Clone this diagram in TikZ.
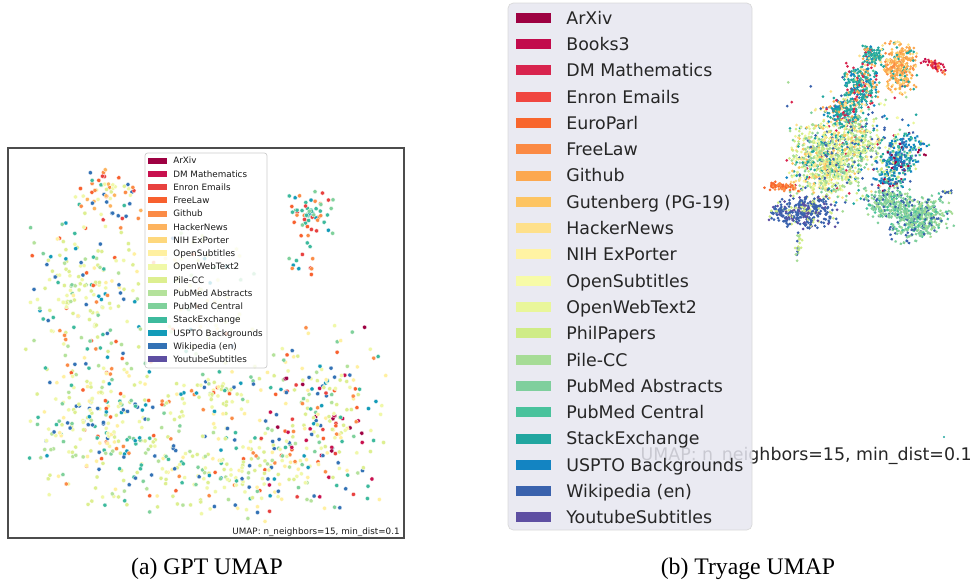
\documentclass[tikz,border=0pt]{standalone}
\usepackage{fontspec}
\setmainfont{Liberation Serif}
\newfontfamily\plotfont{DejaVu Sans}
\usetikzlibrary{calc,positioning}

% GPT palette (16 sources)
\definecolor{gArx}{HTML}{9E0142}
\definecolor{gDMM}{HTML}{C8104E}
\definecolor{gEnr}{HTML}{E8413F}
\definecolor{gFL}{HTML}{F8602E}
\definecolor{gGit}{HTML}{FB8B46}
\definecolor{gHN}{HTML}{FDB35E}
\definecolor{gNIH}{HTML}{FED87D}
\definecolor{gOS}{HTML}{FFF0A0}
\definecolor{gOWT}{HTML}{F0F8A8}
\definecolor{gPCC}{HTML}{DDEF90}
\definecolor{gPMA}{HTML}{B4E29B}
\definecolor{gPMC}{HTML}{7FD19B}
\definecolor{gSE}{HTML}{3DBA9D}
\definecolor{gUSP}{HTML}{139BB8}
\definecolor{gWiki}{HTML}{3372B5}
\definecolor{gYT}{HTML}{5E4FA2}
% Tryage palette (20 sources)
\definecolor{tArx}{HTML}{9E0142}
\definecolor{tBk}{HTML}{C20A4C}
\definecolor{tDMM}{HTML}{D8244E}
\definecolor{tEnr}{HTML}{F04640}
\definecolor{tEP}{HTML}{F8662D}
\definecolor{tFL}{HTML}{FB8A44}
\definecolor{tGit}{HTML}{FCA84F}
\definecolor{tGut}{HTML}{FDC462}
\definecolor{tHN}{HTML}{FEE08B}
\definecolor{tNIH}{HTML}{FFF3A3}
\definecolor{tOS}{HTML}{F7FBA8}
\definecolor{tOWT}{HTML}{E9F69A}
\definecolor{tPP}{HTML}{CFEC86}
\definecolor{tPCC}{HTML}{A6DC96}
\definecolor{tPMA}{HTML}{7FCF9D}
\definecolor{tPMC}{HTML}{49C29C}
\definecolor{tSE}{HTML}{21A6A0}
\definecolor{tUSP}{HTML}{1384C2}
\definecolor{tWiki}{HTML}{3A62AD}
\definecolor{tYT}{HTML}{5E4FA2}
\definecolor{tbg}{HTML}{E6E6F0}

\pgfmathdeclarerandomlist{gmain}{{gOWT}{gOWT}{gOWT}{gOWT}{gPCC}{gPCC}{gPCC}{gPCC}{gOS}{gOS}{gPMA}{gPMA}{gWiki}{gWiki}{gSE}{gPMC}{gGit}{gFL}{gUSP}}
\pgfmathdeclarerandomlist{gtop}{{gGit}{gFL}{gFL}{gHN}{gWiki}{gWiki}{gOWT}{gPCC}{gOWT}{gEnr}{gSE}}
\pgfmathdeclarerandomlist{gright}{{gOWT}{gOWT}{gPCC}{gPCC}{gPCC}{gOS}{gOS}{gWiki}{gWiki}{gSE}{gPMC}{gArx}{gDMM}{gEnr}{gFL}{gGit}{gUSP}{gPMA}}
\pgfmathdeclarerandomlist{gcorner}{{gSE}{gSE}{gSE}{gPMC}{gFL}{gGit}{gGit}{gEnr}{gUSP}}
\pgfmathdeclarerandomlist{tarm}{{tSE}{tSE}{tSE}{tSE}{tUSP}{tPMC}{tDMM}{tGit}{tHN}}
\pgfmathdeclarerandomlist{torange}{{tGit}{tGit}{tGit}{tHN}{tGut}{tFL}{tSE}}
\pgfmathdeclarerandomlist{tred}{{tDMM}{tEnr}{tBk}{tFL}}
\pgfmathdeclarerandomlist{tmain}{{tPP}{tPP}{tPCC}{tPCC}{tOWT}{tOWT}{tOS}{tHN}{tGut}{tPMA}{tWiki}{tSE}}
\pgfmathdeclarerandomlist{tmix}{{tPP}{tPCC}{tOWT}{tOS}{tWiki}{tWiki}{tUSP}{tSE}{tPMA}{tDMM}{tHN}}
\pgfmathdeclarerandomlist{tpat}{{tUSP}{tUSP}{tUSP}{tUSP}{tSE}{tSE}{tWiki}{tArx}{tPMC}{tPP}}
\pgfmathdeclarerandomlist{tmed}{{tPMA}{tPMA}{tPMC}{tPCC}{tPMA}{tPCC}{tWiki}}
\pgfmathdeclarerandomlist{teu}{{tEP}{tFL}{tEP}}
\pgfmathdeclarerandomlist{twiki}{{tWiki}{tWiki}{tWiki}{tYT}{tPP}}
\pgfmathdeclarerandomlist{ttail}{{tPP}{tPCC}{tWiki}}

% cx, cy, rx, ry, angle, count, colour list, dot style
\newcommand\dotblob[8]{%
  \begin{scope}[shift={(#1,#2)},rotate=#5]
    \foreach \k in {1,...,#6}{%
      \pgfmathsetmacro\px{#3*(rand+rand)/2}%
      \pgfmathsetmacro\py{#4*(rand+rand)/2}%
      \pgfmathrandomitem\dotcol{#7}%
      \path[#8,fill=\dotcol] (\px,\py) circle;
    }%
  \end{scope}}

\begin{document}
\begin{tikzpicture}[x=0.02cm,y=-0.02cm,
    every node/.append style={inner sep=0pt},
    gdot/.style={radius=2.1,draw=white,line width=0.15pt},
    tdot/.style={radius=1.5},
    gtext/.style={font=\plotfont\fontsize{5}{6}\selectfont,text=black!90,anchor=base west},
    ttext/.style={font=\plotfont\fontsize{9.9}{12}\selectfont,text=black!85,anchor=base west},
    captext/.style={font=\fontsize{13.5}{15}\selectfont,anchor=base}
  ]
  \useasboundingbox (0,0) rectangle (974,579);
  \pgfmathsetseed{1207}

  % (a) GPT UMAP
  \coordinate (gnw) at (8,148);
  \coordinate (gse) at (404,538);
  \begin{scope}
    \clip (gnw) rectangle (gse);
    \dotblob{110}{195}{38}{32}{0}{60}{gtop}{gdot}
    \dotblob{85}{290}{64}{85}{0}{170}{gmain}{gdot}
    \dotblob{110}{430}{85}{95}{0}{280}{gmain}{gdot}
    \dotblob{235}{470}{90}{52}{0}{160}{gmain}{gdot}
    \dotblob{320}{420}{72}{98}{0}{230}{gright}{gdot}
    \dotblob{200}{290}{70}{80}{0}{60}{gmain}{gdot}
    \dotblob{220}{392}{55}{28}{0}{60}{gmain}{gdot}
    \dotblob{310}{213}{25}{25}{0}{60}{gcorner}{gdot}
    \dotblob{300}{265}{15}{30}{0}{12}{gcorner}{gdot}
  \end{scope}
  \draw[black!70,line width=0.6pt] (gnw) rectangle (gse);
  \node[gtext,anchor=base east] (gumap) at (400,534) {UMAP: n\_neighbors=15, min\_dist=0.1};

  \draw[black!20,fill=white,fill opacity=0.8,rounded corners=1.5pt] (145,153) rectangle (267,368);
  \coordinate (gleg) at (148,160.7);
  \foreach \lbl/\col [count=\i] in {ArXiv/gArx,DM Mathematics/gDMM,Enron Emails/gEnr,FreeLaw/gFL,
      Github/gGit,HackerNews/gHN,NIH ExPorter/gNIH,OpenSubtitles/gOS,OpenWebText2/gOWT,Pile-CC/gPCC,
      PubMed Abstracts/gPMA,PubMed Central/gPMC,StackExchange/gSE,USPTO Backgrounds/gUSP,
      Wikipedia (en)/gWiki,YoutubeSubtitles/gYT}{
    \fill[\col] ($(gleg)+(0,{13.24*(\i-1)-3})$) rectangle +(19,6);
    \node[gtext] (ga\i) at ($(gleg)+(25,{13.24*(\i-1)+3.2})$) {\lbl};
  }

  % (b) Tryage UMAP
  \dotblob{855}{150}{70}{75}{0}{300}{tmix}{tdot}
  \dotblob{872}{55}{15}{10}{0}{100}{tarm}{tdot}
  \dotblob{862}{85}{20}{24}{0}{260}{tarm}{tdot}
  \dotblob{843}{112}{22}{18}{0}{200}{tarm}{tdot}
  \dotblob{900}{67}{18}{28}{0}{300}{torange}{tdot}
  \dotblob{935}{66}{20}{6}{-24}{45}{tred}{tdot}
  \dotblob{826}{160}{40}{42}{0}{800}{tmain}{tdot}
  \dotblob{860}{140}{22}{28}{0}{180}{tmain}{tdot}
  \dotblob{898}{162}{34}{20}{55}{320}{tpat}{tdot}
  \dotblob{890}{203}{28}{17}{0}{250}{tmed}{tdot}
  \dotblob{920}{218}{36}{22}{20}{420}{tmed}{tdot}
  \dotblob{782}{187}{20}{5}{-5}{55}{teu}{tdot}
  \dotblob{808}{212}{32}{18}{0}{280}{twiki}{tdot}
  \dotblob{778}{213}{12}{9}{0}{40}{twiki}{tdot}
  \dotblob{798}{245}{5}{18}{0}{22}{ttail}{tdot}
  \dotblob{947}{192}{8}{2}{0}{10}{twiki}{tdot}
  \fill[tSE] (944,437) circle[radius=1.2];
  \node[ttext,anchor=base east] (tumap) at (972,460) {UMAP: n\_neighbors=15, min\_dist=0.1};

  \draw[black!15,fill=tbg,fill opacity=0.85,rounded corners=3pt] (508,3) rectangle (752,530);
  \coordinate (tleg) at (516,17.7);
  \foreach \lbl/\col [count=\i] in {ArXiv/tArx,Books3/tBk,DM Mathematics/tDMM,Enron Emails/tEnr,
      EuroParl/tEP,FreeLaw/tFL,Github/tGit,Gutenberg (PG-19)/tGut,HackerNews/tHN,NIH ExPorter/tNIH,
      OpenSubtitles/tOS,OpenWebText2/tOWT,PhilPapers/tPP,Pile-CC/tPCC,PubMed Abstracts/tPMA,
      PubMed Central/tPMC,StackExchange/tSE,USPTO Backgrounds/tUSP,Wikipedia (en)/tWiki,
      YoutubeSubtitles/tYT}{
    \fill[\col] ($(tleg)+(0,{26.3*(\i-1)-5})$) rectangle +(35,10);
    \node[ttext] (ta\i) at ($(tleg)+(50,{26.3*(\i-1)+6.4})$) {\lbl};
  }

  % captions
  \node[captext] (capa) at (207,574) {(a) GPT UMAP};
  \node[captext] (capb) at (748,574) {(b) Tryage UMAP};
\end{tikzpicture}
\end{document}
